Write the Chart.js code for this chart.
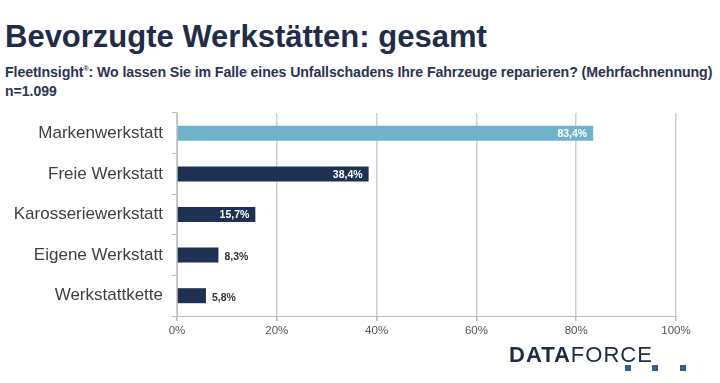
<!DOCTYPE html>
<html>
<head>
<meta charset="utf-8">
<script src="https://cdn.jsdelivr.net/npm/chart.js@4/dist/chart.umd.min.js"></script>
<style>
  body { margin: 0; width: 720px; height: 383px; background: #fff; position: relative; overflow: hidden; font-family: "Liberation Sans", Arial, sans-serif; }
  #title { position: absolute; left: 5px; top: 19px; font-size: 31px; font-weight: bold; color: #1f2c4b; white-space: nowrap; }
  #sub { position: absolute; left: 5px; top: 64px; font-size: 14.2px; font-weight: bold; color: #2b3450; white-space: nowrap; letter-spacing: -0.1px; }
  #sub sup { font-size: 7px; }
  #n { position: absolute; left: 5px; top: 83px; font-size: 14px; font-weight: bold; color: #2b3450; }
  #wrap { position: absolute; left: 0; top: 100px; width: 720px; height: 250px; }
  #logo { position: absolute; left: 509px; top: 342px; font-size: 22px; color: #1d2b45; letter-spacing: 1px; white-space: nowrap; }
  #logo b { font-weight: bold; }
  .sq { position: absolute; top: 365px; width: 6px; height: 6px; background: #2e5f95; }
</style>
</head>
<body>
<div id="title">Bevorzugte Werkstätten: gesamt</div>
<div id="sub">FleetInsight<sup>®</sup>: Wo lassen Sie im Falle eines Unfallschadens Ihre Fahrzeuge reparieren? (Mehrfachnennung)</div>
<div id="n">n=1.099</div>
<div id="wrap"><canvas id="chart"></canvas></div>
<div id="logo"><b>DATA</b>FORCE</div>
<div class="sq" style="left:625px"></div>
<div class="sq" style="left:652px"></div>
<div class="sq" style="left:680px"></div>
<script>
// Werte aus der Grafik
const kategorien = ['Markenwerkstatt', 'Freie Werkstatt', 'Karosseriewerkstatt', 'Eigene Werkstatt', 'Werkstattkette'];
const anteile = [83.4, 38.4, 15.7, 8.3, 5.8];
const balkenFarben = ['#6fb3cb', '#1f3152', '#1f3152', '#1f3152', '#1f3152'];
const xTicks = [0, 20, 40, 60, 80, 100];

// Beschriftung der Balken
const wertLabels = {
    id: 'wertLabels',
    afterDatasetsDraw(chart) {
        const ctx = chart.ctx;
        const meta = chart.getDatasetMeta(0);
        ctx.save();
        ctx.font = 'bold 10.5px "Liberation Sans", Arial, sans-serif';
        ctx.textBaseline = 'middle';
        meta.data.forEach((bar, i) => {
            const text = anteile[i].toFixed(1).replace('.', ',') + '%';
            if (anteile[i] > 12) {
                ctx.fillStyle = '#ffffff';
                ctx.textAlign = 'right';
                ctx.fillText(text, bar.x - 6, bar.y + 1);
            } else {
                ctx.fillStyle = '#333333';
                ctx.textAlign = 'left';
                ctx.fillText(text, bar.x + 6, bar.y + 2);
            }
        });
        ctx.restore();
    }
};

const ctx = document.getElementById('chart').getContext('2d');
new Chart(ctx, {
    type: 'bar',
    data: {
        labels: kategorien,
        datasets: [{
            data: anteile,
            backgroundColor: balkenFarben,
            borderWidth: 0,
            categoryPercentage: 1,
            barPercentage: 0.37
        }]
    },
    options: {
        indexAxis: 'y',
        responsive: true,
        maintainAspectRatio: false,
        animation: false,
        layout: { padding: { top: 13, right: 44, left: 0, bottom: 0 } },
        scales: {
            x: {
                min: 0,
                max: 100,
                afterBuildTicks: axis => { axis.ticks = xTicks.map(v => ({ value: v })); },
                afterFit: axis => { axis.height = 34; },
                grid: { color: '#cfcfcf', lineWidth: 1.5, tickLength: 5, tickColor: '#bbbbbb' },
                border: { color: '#bbbbbb', width: 1 },
                ticks: {
                    color: '#555555',
                    font: { size: 11.5, family: '"Liberation Sans", Arial, sans-serif' },
                    padding: 3,
                    callback: v => v + '%'
                }
            },
            y: {
                afterFit: axis => { axis.width = 177; axis.paddingTop = 0; axis.paddingBottom = 0; },
                grid: { drawOnChartArea: false, tickLength: 5, tickColor: '#bbbbbb', offset: true },
                border: { color: '#bbbbbb', width: 1 },
                ticks: {
                    color: '#404040',
                    font: { size: 17, family: '"Liberation Sans", Arial, sans-serif' },
                    padding: 9
                }
            }
        },
        plugins: {
            legend: { display: false },
            tooltip: { enabled: false }
        }
    },
    plugins: [wertLabels]
});
</script>
</body>
</html>
